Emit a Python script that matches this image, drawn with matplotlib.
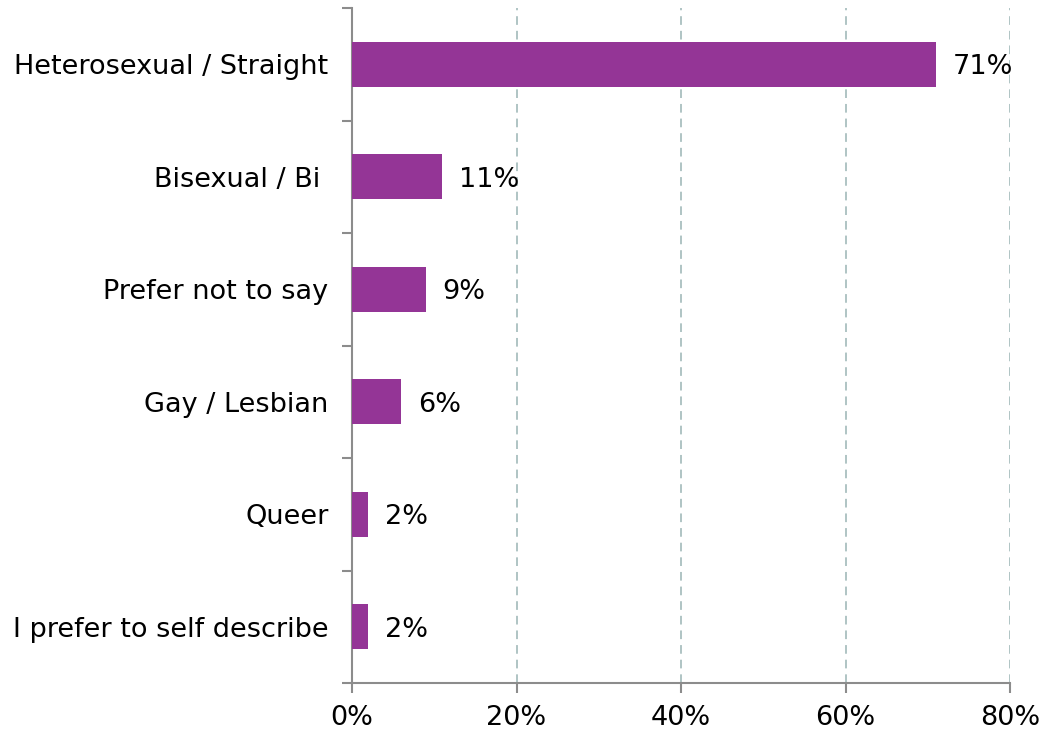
import numpy as np
import matplotlib
matplotlib.use("Agg")
from matplotlib import pyplot as plt

categories = ["Heterosexual / Straight", "Bisexual / Bi ", "Prefer not to say",
              "Gay / Lesbian", "Queer", "I prefer to self describe"]
values = [71, 11, 9, 6, 2, 2]
x_ticks = [0, 20, 40, 60, 80]

bar_color = "#943596"
axis_gray = "#8c8c8c"
fs = 19.5

fig = plt.figure(figsize=(10.44, 7.32), dpi=100)
ax = fig.add_axes([352 / 1044, 49 / 732, 658 / 1044, 675 / 732])

y = np.arange(len(categories))
bars = ax.barh(y, values, height=0.4, color=bar_color, zorder=3)
texts = ax.bar_label(bars, labels=[f"{v}%" for v in values], padding=12, fontsize=fs)
for t in texts:
    t.set_va("center_baseline")

ax.set_ylim(len(categories) - 0.5, -0.5)
ax.set_xlim(0, 80)

ax.set_yticks(y)
ax.set_yticklabels(categories, fontsize=fs)
ax.set_yticks(np.arange(len(categories) + 1) - 0.5, minor=True)
ax.tick_params(axis="y", which="major", length=0, pad=17)
ax.tick_params(axis="y", which="minor", length=7, width=1.5, color=axis_gray)

ax.set_xticks(x_ticks)
ax.set_xticklabels([f"{t}%" for t in x_ticks], fontsize=fs)
ax.tick_params(axis="x", length=7, width=1.5, color=axis_gray, pad=9)

ax.xaxis.grid(True, linestyle=(0, (4.8, 3.3)), color="#a9bfbf", linewidth=1.3, zorder=0)
for side in ["top", "right"]:
    ax.spines[side].set_visible(False)
for side in ["left", "bottom"]:
    ax.spines[side].set_color(axis_gray)
    ax.spines[side].set_linewidth(1.5)

fig.savefig("out.png", dpi=100)
